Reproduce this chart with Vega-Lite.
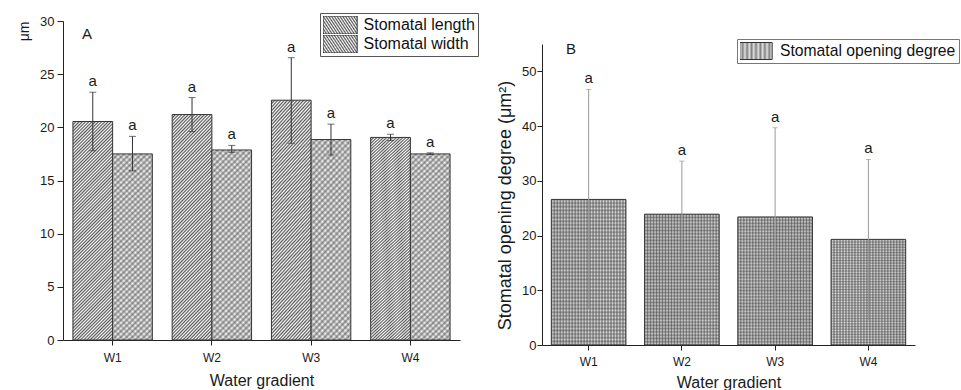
{
  "$schema": "https://vega.github.io/schema/vega-lite/v6.json",
  "background": "white",
  "padding": {"left": 17, "top": 12, "right": 0, "bottom": 0},
  "bounds": "flush",
  "spacing": 82,
  "config": {
    "font": "Liberation Sans",
    "view": {"stroke": null},
    "axis": {"grid": false, "domainColor": "#222", "tickColor": "#222", "labelColor": "#1a1a1a", "titleColor": "#1a1a1a", "labelFont": "Liberation Sans", "titleFont": "Liberation Sans", "titleFontWeight": "normal"},
    "legend": {"labelFont": "Liberation Sans", "labelColor": "#111"},
    "title": {"font": "Liberation Sans", "fontWeight": "normal", "color": "#1a1a1a", "fontSize": 15}
  },
  "resolve": {"scale": {"x": "independent", "y": "independent", "xOffset": "independent", "stroke": "independent"}, "legend": {"stroke": "independent"}},
  "hconcat": [
    {
      "width": 397,
      "height": 319,
      "title": {"text": "A", "anchor": "start", "frame": "group", "offset": -29, "dx": 19},
      "data": {"values": [
        {"g": "W1", "s": "Stomatal length", "v": 20.55, "lo": 17.8, "hi": 23.3, "sig": "a"},
        {"g": "W1", "s": "Stomatal width", "v": 17.5, "lo": 15.9, "hi": 19.15, "sig": "a"},
        {"g": "W2", "s": "Stomatal length", "v": 21.2, "lo": 19.6, "hi": 22.8, "sig": "a"},
        {"g": "W2", "s": "Stomatal width", "v": 17.87, "lo": 17.65, "hi": 18.3, "sig": "a"},
        {"g": "W3", "s": "Stomatal length", "v": 22.55, "lo": 18.5, "hi": 26.55, "sig": "a"},
        {"g": "W3", "s": "Stomatal width", "v": 18.85, "lo": 17.4, "hi": 20.3, "sig": "a"},
        {"g": "W4", "s": "Stomatal length", "v": 19.05, "lo": 18.75, "hi": 19.35, "sig": "a"},
        {"g": "W4", "s": "Stomatal width", "v": 17.5, "lo": 17.45, "hi": 17.6, "sig": "a"}
      ]},
      "encoding": {
        "x": {"field": "g", "type": "nominal", "title": "Water gradient", "scale": {"paddingInner": 0.2, "paddingOuter": 0.1},
          "axis": {"labelAngle": 0, "labelFontSize": 12, "titleFontSize": 16, "tickSize": 5, "labelPadding": 7, "titlePadding": 9}},
        "xOffset": {"field": "s", "type": "nominal", "scale": {"domain": ["Stomatal length", "Stomatal width"], "paddingInner": 0, "paddingOuter": 0}}
      },
      "layer": [
        {
          "transform": [{"filter": "datum.s === 'Stomatal length'"}],
          "mark": {"type": "bar", "strokeWidth": 1, "fill": {"gradient": "linear", "x1": 0, "y1": 0, "x2": 0.208, "y2": 1.144, "stops": [
            {"offset":0,"color":"#555"},{"offset":0.00625,"color":"#fff"},{"offset":0.0125,"color":"#555"},{"offset":0.01875,"color":"#fff"},
            {"offset":0.025,"color":"#555"},{"offset":0.03125,"color":"#fff"},{"offset":0.0375,"color":"#555"},{"offset":0.04375,"color":"#fff"},
            {"offset":0.05,"color":"#555"},{"offset":0.05625,"color":"#fff"},{"offset":0.0625,"color":"#555"},{"offset":0.06875,"color":"#fff"},
            {"offset":0.075,"color":"#555"},{"offset":0.08125,"color":"#fff"},{"offset":0.0875,"color":"#555"},{"offset":0.09375,"color":"#fff"},
            {"offset":0.1,"color":"#555"},{"offset":0.10625,"color":"#fff"},{"offset":0.1125,"color":"#555"},{"offset":0.11875,"color":"#fff"},
            {"offset":0.125,"color":"#555"},{"offset":0.13125,"color":"#fff"},{"offset":0.1375,"color":"#555"},{"offset":0.14375,"color":"#fff"},
            {"offset":0.15,"color":"#555"},{"offset":0.15625,"color":"#fff"},{"offset":0.1625,"color":"#555"},{"offset":0.16875,"color":"#fff"},
            {"offset":0.175,"color":"#555"},{"offset":0.18125,"color":"#fff"},{"offset":0.1875,"color":"#555"},{"offset":0.19375,"color":"#fff"},
            {"offset":0.2,"color":"#555"},{"offset":0.20625,"color":"#fff"},{"offset":0.2125,"color":"#555"},{"offset":0.21875,"color":"#fff"},
            {"offset":0.225,"color":"#555"},{"offset":0.23125,"color":"#fff"},{"offset":0.2375,"color":"#555"},{"offset":0.24375,"color":"#fff"},
            {"offset":0.25,"color":"#555"},{"offset":0.25625,"color":"#fff"},{"offset":0.2625,"color":"#555"},{"offset":0.26875,"color":"#fff"},
            {"offset":0.275,"color":"#555"},{"offset":0.28125,"color":"#fff"},{"offset":0.2875,"color":"#555"},{"offset":0.29375,"color":"#fff"},
            {"offset":0.3,"color":"#555"},{"offset":0.30625,"color":"#fff"},{"offset":0.3125,"color":"#555"},{"offset":0.31875,"color":"#fff"},
            {"offset":0.325,"color":"#555"},{"offset":0.33125,"color":"#fff"},{"offset":0.3375,"color":"#555"},{"offset":0.34375,"color":"#fff"},
            {"offset":0.35,"color":"#555"},{"offset":0.35625,"color":"#fff"},{"offset":0.3625,"color":"#555"},{"offset":0.36875,"color":"#fff"},
            {"offset":0.375,"color":"#555"},{"offset":0.38125,"color":"#fff"},{"offset":0.3875,"color":"#555"},{"offset":0.39375,"color":"#fff"},
            {"offset":0.4,"color":"#555"},{"offset":0.40625,"color":"#fff"},{"offset":0.4125,"color":"#555"},{"offset":0.41875,"color":"#fff"},
            {"offset":0.425,"color":"#555"},{"offset":0.43125,"color":"#fff"},{"offset":0.4375,"color":"#555"},{"offset":0.44375,"color":"#fff"},
            {"offset":0.45,"color":"#555"},{"offset":0.45625,"color":"#fff"},{"offset":0.4625,"color":"#555"},{"offset":0.46875,"color":"#fff"},
            {"offset":0.475,"color":"#555"},{"offset":0.48125,"color":"#fff"},{"offset":0.4875,"color":"#555"},{"offset":0.49375,"color":"#fff"},
            {"offset":0.5,"color":"#555"},{"offset":0.50625,"color":"#fff"},{"offset":0.5125,"color":"#555"},{"offset":0.51875,"color":"#fff"},
            {"offset":0.525,"color":"#555"},{"offset":0.53125,"color":"#fff"},{"offset":0.5375,"color":"#555"},{"offset":0.54375,"color":"#fff"},
            {"offset":0.55,"color":"#555"},{"offset":0.55625,"color":"#fff"},{"offset":0.5625,"color":"#555"},{"offset":0.56875,"color":"#fff"},
            {"offset":0.575,"color":"#555"},{"offset":0.58125,"color":"#fff"},{"offset":0.5875,"color":"#555"},{"offset":0.59375,"color":"#fff"},
            {"offset":0.6,"color":"#555"},{"offset":0.60625,"color":"#fff"},{"offset":0.6125,"color":"#555"},{"offset":0.61875,"color":"#fff"},
            {"offset":0.625,"color":"#555"},{"offset":0.63125,"color":"#fff"},{"offset":0.6375,"color":"#555"},{"offset":0.64375,"color":"#fff"},
            {"offset":0.65,"color":"#555"},{"offset":0.65625,"color":"#fff"},{"offset":0.6625,"color":"#555"},{"offset":0.66875,"color":"#fff"},
            {"offset":0.675,"color":"#555"},{"offset":0.68125,"color":"#fff"},{"offset":0.6875,"color":"#555"},{"offset":0.69375,"color":"#fff"},
            {"offset":0.7,"color":"#555"},{"offset":0.70625,"color":"#fff"},{"offset":0.7125,"color":"#555"},{"offset":0.71875,"color":"#fff"},
            {"offset":0.725,"color":"#555"},{"offset":0.73125,"color":"#fff"},{"offset":0.7375,"color":"#555"},{"offset":0.74375,"color":"#fff"},
            {"offset":0.75,"color":"#555"},{"offset":0.75625,"color":"#fff"},{"offset":0.7625,"color":"#555"},{"offset":0.76875,"color":"#fff"},
            {"offset":0.775,"color":"#555"},{"offset":0.78125,"color":"#fff"},{"offset":0.7875,"color":"#555"},{"offset":0.79375,"color":"#fff"},
            {"offset":0.8,"color":"#555"},{"offset":0.80625,"color":"#fff"},{"offset":0.8125,"color":"#555"},{"offset":0.81875,"color":"#fff"},
            {"offset":0.825,"color":"#555"},{"offset":0.83125,"color":"#fff"},{"offset":0.8375,"color":"#555"},{"offset":0.84375,"color":"#fff"},
            {"offset":0.85,"color":"#555"},{"offset":0.85625,"color":"#fff"},{"offset":0.8625,"color":"#555"},{"offset":0.86875,"color":"#fff"},
            {"offset":0.875,"color":"#555"},{"offset":0.88125,"color":"#fff"},{"offset":0.8875,"color":"#555"},{"offset":0.89375,"color":"#fff"},
            {"offset":0.9,"color":"#555"},{"offset":0.90625,"color":"#fff"},{"offset":0.9125,"color":"#555"},{"offset":0.91875,"color":"#fff"},
            {"offset":0.925,"color":"#555"},{"offset":0.93125,"color":"#fff"},{"offset":0.9375,"color":"#555"},{"offset":0.94375,"color":"#fff"},
            {"offset":0.95,"color":"#555"},{"offset":0.95625,"color":"#fff"},{"offset":0.9625,"color":"#555"},{"offset":0.96875,"color":"#fff"},
            {"offset":0.975,"color":"#555"},{"offset":0.98125,"color":"#fff"},{"offset":0.9875,"color":"#555"},{"offset":0.99375,"color":"#fff"},
            {"offset":1,"color":"#555"}
          ]}},
          "encoding": {
            "y": {"field": "v", "type": "quantitative", "title": "μm", "scale": {"domain": [0, 30], "nice": false},
              "axis": {"titleAnchor": "end", "titleFontSize": 14, "titlePadding": 8, "values": [0, 2.5, 5, 7.5, 10, 12.5, 15, 17.5, 20, 22.5, 25, 27.5, 30],
                "labelExpr": "datum.value % 5 === 0 ? datum.label : ''", "labelOverlap": false, "labelFontSize": 13, "labelPadding": 3,
                "tickSize": {"condition": {"test": "datum.value % 5 === 0", "value": 6}, "value": 3}}},
            "stroke": {"field": "s", "type": "nominal", "scale": {"domain": ["Stomatal length", "Stomatal width"], "range": ["#333", "#333"]},
              "legend": {"title": null, "orient": "none", "legendX": 257, "legendY": -8, "symbolType": "M-1.9,-1H1.9V1H-1.9Z", "symbolSize": 324,
                "symbolOffset": 7.6, "labelOffset": 14, "labelFontSize": 16, "rowPadding": 1, "clipHeight": 18, "padding": 3, "strokeColor": "#555", "fillColor": "#fff",
                "labelLimit": 300, "symbolStrokeWidth": 1,
                "encode": {"symbols": {"update": {"fill": [
                  {"test": "datum.value === 'Stomatal length'", "value": {"gradient": "linear", "x1": 0, "y1": 0, "x2": 1.194, "y2": 0.633, "stops": [
                    {"offset":0,"color":"#555"},{"offset":0.03125,"color":"#fff"},{"offset":0.0625,"color":"#555"},{"offset":0.09375,"color":"#fff"},
                    {"offset":0.125,"color":"#555"},{"offset":0.15625,"color":"#fff"},{"offset":0.1875,"color":"#555"},{"offset":0.21875,"color":"#fff"},
                    {"offset":0.25,"color":"#555"},{"offset":0.28125,"color":"#fff"},{"offset":0.3125,"color":"#555"},{"offset":0.34375,"color":"#fff"},
                    {"offset":0.375,"color":"#555"},{"offset":0.40625,"color":"#fff"},{"offset":0.4375,"color":"#555"},{"offset":0.46875,"color":"#fff"},
                    {"offset":0.5,"color":"#555"},{"offset":0.53125,"color":"#fff"},{"offset":0.5625,"color":"#555"},{"offset":0.59375,"color":"#fff"},
                    {"offset":0.625,"color":"#555"},{"offset":0.65625,"color":"#fff"},{"offset":0.6875,"color":"#555"},{"offset":0.71875,"color":"#fff"},
                    {"offset":0.75,"color":"#555"},{"offset":0.78125,"color":"#fff"},{"offset":0.8125,"color":"#555"},{"offset":0.84375,"color":"#fff"},
                    {"offset":0.875,"color":"#555"},{"offset":0.90625,"color":"#fff"},{"offset":0.9375,"color":"#555"},{"offset":0.96875,"color":"#fff"},
                    {"offset":1,"color":"#555"}]}},
                  {"value": {"gradient": "linear", "x1": 1, "y1": 0, "x2": -0.194, "y2": 0.633, "stops": [
                    {"offset":0,"color":"#9a9a9a"},{"offset":0.05,"color":"#fff"},{"offset":0.1,"color":"#9a9a9a"},{"offset":0.15,"color":"#fff"},
                    {"offset":0.2,"color":"#9a9a9a"},{"offset":0.25,"color":"#fff"},{"offset":0.3,"color":"#9a9a9a"},{"offset":0.35,"color":"#fff"},
                    {"offset":0.4,"color":"#9a9a9a"},{"offset":0.45,"color":"#fff"},{"offset":0.5,"color":"#9a9a9a"},{"offset":0.55,"color":"#fff"},
                    {"offset":0.6,"color":"#9a9a9a"},{"offset":0.65,"color":"#fff"},{"offset":0.7,"color":"#9a9a9a"},{"offset":0.75,"color":"#fff"},
                    {"offset":0.8,"color":"#9a9a9a"},{"offset":0.85,"color":"#fff"},{"offset":0.9,"color":"#9a9a9a"},{"offset":0.95,"color":"#fff"},
                    {"offset":1,"color":"#9a9a9a"}]}}
                ]}}}}}
          }
        },
        {
          "transform": [{"filter": "datum.s === 'Stomatal width'"}],
          "mark": {"type": "bar", "fill": {"gradient": "linear", "x1": 0, "y1": 0, "x2": 0.241, "y2": 1.158, "stops": [
            {"offset":0,"color":"#9a9a9a"},{"offset":0.0125,"color":"#fff"},{"offset":0.025,"color":"#9a9a9a"},{"offset":0.0375,"color":"#fff"},
            {"offset":0.05,"color":"#9a9a9a"},{"offset":0.0625,"color":"#fff"},{"offset":0.075,"color":"#9a9a9a"},{"offset":0.0875,"color":"#fff"},
            {"offset":0.1,"color":"#9a9a9a"},{"offset":0.1125,"color":"#fff"},{"offset":0.125,"color":"#9a9a9a"},{"offset":0.1375,"color":"#fff"},
            {"offset":0.15,"color":"#9a9a9a"},{"offset":0.1625,"color":"#fff"},{"offset":0.175,"color":"#9a9a9a"},{"offset":0.1875,"color":"#fff"},
            {"offset":0.2,"color":"#9a9a9a"},{"offset":0.2125,"color":"#fff"},{"offset":0.225,"color":"#9a9a9a"},{"offset":0.2375,"color":"#fff"},
            {"offset":0.25,"color":"#9a9a9a"},{"offset":0.2625,"color":"#fff"},{"offset":0.275,"color":"#9a9a9a"},{"offset":0.2875,"color":"#fff"},
            {"offset":0.3,"color":"#9a9a9a"},{"offset":0.3125,"color":"#fff"},{"offset":0.325,"color":"#9a9a9a"},{"offset":0.3375,"color":"#fff"},
            {"offset":0.35,"color":"#9a9a9a"},{"offset":0.3625,"color":"#fff"},{"offset":0.375,"color":"#9a9a9a"},{"offset":0.3875,"color":"#fff"},
            {"offset":0.4,"color":"#9a9a9a"},{"offset":0.4125,"color":"#fff"},{"offset":0.425,"color":"#9a9a9a"},{"offset":0.4375,"color":"#fff"},
            {"offset":0.45,"color":"#9a9a9a"},{"offset":0.4625,"color":"#fff"},{"offset":0.475,"color":"#9a9a9a"},{"offset":0.4875,"color":"#fff"},
            {"offset":0.5,"color":"#9a9a9a"},{"offset":0.5125,"color":"#fff"},{"offset":0.525,"color":"#9a9a9a"},{"offset":0.5375,"color":"#fff"},
            {"offset":0.55,"color":"#9a9a9a"},{"offset":0.5625,"color":"#fff"},{"offset":0.575,"color":"#9a9a9a"},{"offset":0.5875,"color":"#fff"},
            {"offset":0.6,"color":"#9a9a9a"},{"offset":0.6125,"color":"#fff"},{"offset":0.625,"color":"#9a9a9a"},{"offset":0.6375,"color":"#fff"},
            {"offset":0.65,"color":"#9a9a9a"},{"offset":0.6625,"color":"#fff"},{"offset":0.675,"color":"#9a9a9a"},{"offset":0.6875,"color":"#fff"},
            {"offset":0.7,"color":"#9a9a9a"},{"offset":0.7125,"color":"#fff"},{"offset":0.725,"color":"#9a9a9a"},{"offset":0.7375,"color":"#fff"},
            {"offset":0.75,"color":"#9a9a9a"},{"offset":0.7625,"color":"#fff"},{"offset":0.775,"color":"#9a9a9a"},{"offset":0.7875,"color":"#fff"},
            {"offset":0.8,"color":"#9a9a9a"},{"offset":0.8125,"color":"#fff"},{"offset":0.825,"color":"#9a9a9a"},{"offset":0.8375,"color":"#fff"},
            {"offset":0.85,"color":"#9a9a9a"},{"offset":0.8625,"color":"#fff"},{"offset":0.875,"color":"#9a9a9a"},{"offset":0.8875,"color":"#fff"},
            {"offset":0.9,"color":"#9a9a9a"},{"offset":0.9125,"color":"#fff"},{"offset":0.925,"color":"#9a9a9a"},{"offset":0.9375,"color":"#fff"},
            {"offset":0.95,"color":"#9a9a9a"},{"offset":0.9625,"color":"#fff"},{"offset":0.975,"color":"#9a9a9a"},{"offset":0.9875,"color":"#fff"},
            {"offset":1,"color":"#9a9a9a"}
          ]}},
          "encoding": {"y": {"field": "v", "type": "quantitative", "title": "μm"}}
        },
        {
          "transform": [{"filter": "datum.s === 'Stomatal width'"}],
          "mark": {"type": "bar", "stroke": "#333", "strokeWidth": 1, "fill": {"gradient": "linear", "x1": 1, "y1": 0, "x2": 0.759, "y2": 1.158, "stops": [
            {"offset":0,"color":"rgba(60,60,60,0.35)"},{"offset":0.0125,"color":"rgba(60,60,60,0)"},{"offset":0.025,"color":"rgba(60,60,60,0.35)"},{"offset":0.0375,"color":"rgba(60,60,60,0)"},
            {"offset":0.05,"color":"rgba(60,60,60,0.35)"},{"offset":0.0625,"color":"rgba(60,60,60,0)"},{"offset":0.075,"color":"rgba(60,60,60,0.35)"},{"offset":0.0875,"color":"rgba(60,60,60,0)"},
            {"offset":0.1,"color":"rgba(60,60,60,0.35)"},{"offset":0.1125,"color":"rgba(60,60,60,0)"},{"offset":0.125,"color":"rgba(60,60,60,0.35)"},{"offset":0.1375,"color":"rgba(60,60,60,0)"},
            {"offset":0.15,"color":"rgba(60,60,60,0.35)"},{"offset":0.1625,"color":"rgba(60,60,60,0)"},{"offset":0.175,"color":"rgba(60,60,60,0.35)"},{"offset":0.1875,"color":"rgba(60,60,60,0)"},
            {"offset":0.2,"color":"rgba(60,60,60,0.35)"},{"offset":0.2125,"color":"rgba(60,60,60,0)"},{"offset":0.225,"color":"rgba(60,60,60,0.35)"},{"offset":0.2375,"color":"rgba(60,60,60,0)"},
            {"offset":0.25,"color":"rgba(60,60,60,0.35)"},{"offset":0.2625,"color":"rgba(60,60,60,0)"},{"offset":0.275,"color":"rgba(60,60,60,0.35)"},{"offset":0.2875,"color":"rgba(60,60,60,0)"},
            {"offset":0.3,"color":"rgba(60,60,60,0.35)"},{"offset":0.3125,"color":"rgba(60,60,60,0)"},{"offset":0.325,"color":"rgba(60,60,60,0.35)"},{"offset":0.3375,"color":"rgba(60,60,60,0)"},
            {"offset":0.35,"color":"rgba(60,60,60,0.35)"},{"offset":0.3625,"color":"rgba(60,60,60,0)"},{"offset":0.375,"color":"rgba(60,60,60,0.35)"},{"offset":0.3875,"color":"rgba(60,60,60,0)"},
            {"offset":0.4,"color":"rgba(60,60,60,0.35)"},{"offset":0.4125,"color":"rgba(60,60,60,0)"},{"offset":0.425,"color":"rgba(60,60,60,0.35)"},{"offset":0.4375,"color":"rgba(60,60,60,0)"},
            {"offset":0.45,"color":"rgba(60,60,60,0.35)"},{"offset":0.4625,"color":"rgba(60,60,60,0)"},{"offset":0.475,"color":"rgba(60,60,60,0.35)"},{"offset":0.4875,"color":"rgba(60,60,60,0)"},
            {"offset":0.5,"color":"rgba(60,60,60,0.35)"},{"offset":0.5125,"color":"rgba(60,60,60,0)"},{"offset":0.525,"color":"rgba(60,60,60,0.35)"},{"offset":0.5375,"color":"rgba(60,60,60,0)"},
            {"offset":0.55,"color":"rgba(60,60,60,0.35)"},{"offset":0.5625,"color":"rgba(60,60,60,0)"},{"offset":0.575,"color":"rgba(60,60,60,0.35)"},{"offset":0.5875,"color":"rgba(60,60,60,0)"},
            {"offset":0.6,"color":"rgba(60,60,60,0.35)"},{"offset":0.6125,"color":"rgba(60,60,60,0)"},{"offset":0.625,"color":"rgba(60,60,60,0.35)"},{"offset":0.6375,"color":"rgba(60,60,60,0)"},
            {"offset":0.65,"color":"rgba(60,60,60,0.35)"},{"offset":0.6625,"color":"rgba(60,60,60,0)"},{"offset":0.675,"color":"rgba(60,60,60,0.35)"},{"offset":0.6875,"color":"rgba(60,60,60,0)"},
            {"offset":0.7,"color":"rgba(60,60,60,0.35)"},{"offset":0.7125,"color":"rgba(60,60,60,0)"},{"offset":0.725,"color":"rgba(60,60,60,0.35)"},{"offset":0.7375,"color":"rgba(60,60,60,0)"},
            {"offset":0.75,"color":"rgba(60,60,60,0.35)"},{"offset":0.7625,"color":"rgba(60,60,60,0)"},{"offset":0.775,"color":"rgba(60,60,60,0.35)"},{"offset":0.7875,"color":"rgba(60,60,60,0)"},
            {"offset":0.8,"color":"rgba(60,60,60,0.35)"},{"offset":0.8125,"color":"rgba(60,60,60,0)"},{"offset":0.825,"color":"rgba(60,60,60,0.35)"},{"offset":0.8375,"color":"rgba(60,60,60,0)"},
            {"offset":0.85,"color":"rgba(60,60,60,0.35)"},{"offset":0.8625,"color":"rgba(60,60,60,0)"},{"offset":0.875,"color":"rgba(60,60,60,0.35)"},{"offset":0.8875,"color":"rgba(60,60,60,0)"},
            {"offset":0.9,"color":"rgba(60,60,60,0.35)"},{"offset":0.9125,"color":"rgba(60,60,60,0)"},{"offset":0.925,"color":"rgba(60,60,60,0.35)"},{"offset":0.9375,"color":"rgba(60,60,60,0)"},
            {"offset":0.95,"color":"rgba(60,60,60,0.35)"},{"offset":0.9625,"color":"rgba(60,60,60,0)"},{"offset":0.975,"color":"rgba(60,60,60,0.35)"},{"offset":0.9875,"color":"rgba(60,60,60,0)"},
            {"offset":1,"color":"rgba(60,60,60,0.35)"}
          ]}},
          "encoding": {"y": {"field": "v", "type": "quantitative", "title": "μm"}}
        },
        {
          "mark": {"type": "rule", "color": "#333", "strokeWidth": 1},
          "encoding": {"y": {"field": "lo", "type": "quantitative", "title": "μm"}, "y2": {"field": "hi"}}
        },
        {
          "mark": {"type": "tick", "color": "#333", "thickness": 1, "size": 7},
          "encoding": {"y": {"field": "hi", "type": "quantitative", "title": "μm"}}
        },
        {
          "mark": {"type": "tick", "color": "#333", "thickness": 1, "size": 7},
          "encoding": {"y": {"field": "lo", "type": "quantitative", "title": "μm"}}
        },
        {
          "mark": {"type": "text", "baseline": "alphabetic", "dy": -6, "fontSize": 15, "color": "#1a1a1a"},
          "encoding": {"y": {"field": "hi", "type": "quantitative", "title": "μm"}, "text": {"field": "sig"}}
        }
      ]
    },
    {
      "width": 373,
      "height": 324,
      "title": {"text": "B", "anchor": "start", "frame": "group", "offset": -36, "dx": 24},
      "data": {"values": [
        {"g": "W1", "s": "Stomatal opening degree", "v": 26.6, "lo": 6.5, "hi": 46.7, "sig": "a"},
        {"g": "W2", "s": "Stomatal opening degree", "v": 23.9, "lo": 14.1, "hi": 33.6, "sig": "a"},
        {"g": "W3", "s": "Stomatal opening degree", "v": 23.4, "lo": 6.9, "hi": 39.7, "sig": "a"},
        {"g": "W4", "s": "Stomatal opening degree", "v": 19.3, "lo": 4.6, "hi": 33.9, "sig": "a"}
      ]},
      "encoding": {
        "x": {"field": "g", "type": "nominal", "title": "Water gradient", "scale": {"paddingInner": 0.2, "paddingOuter": 0.1},
          "axis": {"labelAngle": 0, "labelFontSize": 12, "titleFontSize": 16, "tickSize": 5, "labelPadding": 6, "titlePadding": 7}}
      },
      "layer": [
        {
          "mark": {"type": "bar", "strokeWidth": 1, "fill": {"gradient": "linear", "x1": 0, "y1": 0, "x2": 1, "y2": 0, "stops": [
            {"offset":0,"color":"#808080"},{"offset":0.02,"color":"#e2e2e2"},{"offset":0.04,"color":"#808080"},{"offset":0.06,"color":"#e2e2e2"},
            {"offset":0.08,"color":"#808080"},{"offset":0.1,"color":"#e2e2e2"},{"offset":0.12,"color":"#808080"},{"offset":0.14,"color":"#e2e2e2"},
            {"offset":0.16,"color":"#808080"},{"offset":0.18,"color":"#e2e2e2"},{"offset":0.2,"color":"#808080"},{"offset":0.22,"color":"#e2e2e2"},
            {"offset":0.24,"color":"#808080"},{"offset":0.26,"color":"#e2e2e2"},{"offset":0.28,"color":"#808080"},{"offset":0.3,"color":"#e2e2e2"},
            {"offset":0.32,"color":"#808080"},{"offset":0.34,"color":"#e2e2e2"},{"offset":0.36,"color":"#808080"},{"offset":0.38,"color":"#e2e2e2"},
            {"offset":0.4,"color":"#808080"},{"offset":0.42,"color":"#e2e2e2"},{"offset":0.44,"color":"#808080"},{"offset":0.46,"color":"#e2e2e2"},
            {"offset":0.48,"color":"#808080"},{"offset":0.5,"color":"#e2e2e2"},{"offset":0.52,"color":"#808080"},{"offset":0.54,"color":"#e2e2e2"},
            {"offset":0.56,"color":"#808080"},{"offset":0.58,"color":"#e2e2e2"},{"offset":0.6,"color":"#808080"},{"offset":0.62,"color":"#e2e2e2"},
            {"offset":0.64,"color":"#808080"},{"offset":0.66,"color":"#e2e2e2"},{"offset":0.68,"color":"#808080"},{"offset":0.7,"color":"#e2e2e2"},
            {"offset":0.72,"color":"#808080"},{"offset":0.74,"color":"#e2e2e2"},{"offset":0.76,"color":"#808080"},{"offset":0.78,"color":"#e2e2e2"},
            {"offset":0.8,"color":"#808080"},{"offset":0.82,"color":"#e2e2e2"},{"offset":0.84,"color":"#808080"},{"offset":0.86,"color":"#e2e2e2"},
            {"offset":0.88,"color":"#808080"},{"offset":0.9,"color":"#e2e2e2"},{"offset":0.92,"color":"#808080"},{"offset":0.94,"color":"#e2e2e2"},
            {"offset":0.96,"color":"#808080"},{"offset":0.98,"color":"#e2e2e2"},{"offset":1,"color":"#808080"}
          ]}},
          "encoding": {
            "y": {"field": "v", "type": "quantitative", "title": "Stomatal opening degree (μm²)", "scale": {"domain": [0, 55], "nice": false, "range": [324, 23]},
              "axis": {"titleFontSize": 18, "titlePadding": 7, "titleY": 184, "values": [0, 5, 10, 15, 20, 25, 30, 35, 40, 45, 50, 55],
                "labelExpr": "datum.value % 10 === 0 ? datum.label : ''", "labelOverlap": false, "labelFontSize": 13, "labelPadding": 1,
                "tickSize": {"condition": {"test": "datum.value % 10 === 0", "value": 5}, "value": 3}}},
            "stroke": {"field": "s", "type": "nominal", "scale": {"domain": ["Stomatal opening degree"], "range": ["#333"]},
              "legend": {"title": null, "orient": "none", "legendX": 195, "legendY": 18, "symbolType": "M-1.9,-1H1.9V1H-1.9Z", "symbolSize": 289,
                "symbolOffset": 7, "labelOffset": 15, "labelFontSize": 15.7, "clipHeight": 18, "padding": 3, "strokeColor": "#777", "fillColor": "#fff",
                "labelLimit": 300, "symbolStrokeWidth": 1,
                "encode": {"symbols": {"update": {"fill": {"value": {"gradient": "linear", "x1": 0, "y1": 0, "x2": 1, "y2": 0, "stops": [
                  {"offset":0,"color":"#808080"},{"offset":0.05,"color":"#dcdcdc"},{"offset":0.1,"color":"#808080"},{"offset":0.15,"color":"#dcdcdc"},
                  {"offset":0.2,"color":"#808080"},{"offset":0.25,"color":"#dcdcdc"},{"offset":0.3,"color":"#808080"},{"offset":0.35,"color":"#dcdcdc"},
                  {"offset":0.4,"color":"#808080"},{"offset":0.45,"color":"#dcdcdc"},{"offset":0.5,"color":"#808080"},{"offset":0.55,"color":"#dcdcdc"},
                  {"offset":0.6,"color":"#808080"},{"offset":0.65,"color":"#dcdcdc"},{"offset":0.7,"color":"#808080"},{"offset":0.75,"color":"#dcdcdc"},
                  {"offset":0.8,"color":"#808080"},{"offset":0.85,"color":"#dcdcdc"},{"offset":0.9,"color":"#808080"},{"offset":0.95,"color":"#dcdcdc"},
                  {"offset":1,"color":"#808080"}]}}}}}}}
          }
        },
        {
          "mark": {"type": "bar", "fill": {"gradient": "linear", "x1": 0, "y1": 0, "x2": 0, "y2": 1, "stops": [
            {"offset":0,"color":"rgba(60,60,60,0.45)"},{"offset":0.0125,"color":"rgba(60,60,60,0)"},{"offset":0.025,"color":"rgba(60,60,60,0.45)"},{"offset":0.0375,"color":"rgba(60,60,60,0)"},
            {"offset":0.05,"color":"rgba(60,60,60,0.45)"},{"offset":0.0625,"color":"rgba(60,60,60,0)"},{"offset":0.075,"color":"rgba(60,60,60,0.45)"},{"offset":0.0875,"color":"rgba(60,60,60,0)"},
            {"offset":0.1,"color":"rgba(60,60,60,0.45)"},{"offset":0.1125,"color":"rgba(60,60,60,0)"},{"offset":0.125,"color":"rgba(60,60,60,0.45)"},{"offset":0.1375,"color":"rgba(60,60,60,0)"},
            {"offset":0.15,"color":"rgba(60,60,60,0.45)"},{"offset":0.1625,"color":"rgba(60,60,60,0)"},{"offset":0.175,"color":"rgba(60,60,60,0.45)"},{"offset":0.1875,"color":"rgba(60,60,60,0)"},
            {"offset":0.2,"color":"rgba(60,60,60,0.45)"},{"offset":0.2125,"color":"rgba(60,60,60,0)"},{"offset":0.225,"color":"rgba(60,60,60,0.45)"},{"offset":0.2375,"color":"rgba(60,60,60,0)"},
            {"offset":0.25,"color":"rgba(60,60,60,0.45)"},{"offset":0.2625,"color":"rgba(60,60,60,0)"},{"offset":0.275,"color":"rgba(60,60,60,0.45)"},{"offset":0.2875,"color":"rgba(60,60,60,0)"},
            {"offset":0.3,"color":"rgba(60,60,60,0.45)"},{"offset":0.3125,"color":"rgba(60,60,60,0)"},{"offset":0.325,"color":"rgba(60,60,60,0.45)"},{"offset":0.3375,"color":"rgba(60,60,60,0)"},
            {"offset":0.35,"color":"rgba(60,60,60,0.45)"},{"offset":0.3625,"color":"rgba(60,60,60,0)"},{"offset":0.375,"color":"rgba(60,60,60,0.45)"},{"offset":0.3875,"color":"rgba(60,60,60,0)"},
            {"offset":0.4,"color":"rgba(60,60,60,0.45)"},{"offset":0.4125,"color":"rgba(60,60,60,0)"},{"offset":0.425,"color":"rgba(60,60,60,0.45)"},{"offset":0.4375,"color":"rgba(60,60,60,0)"},
            {"offset":0.45,"color":"rgba(60,60,60,0.45)"},{"offset":0.4625,"color":"rgba(60,60,60,0)"},{"offset":0.475,"color":"rgba(60,60,60,0.45)"},{"offset":0.4875,"color":"rgba(60,60,60,0)"},
            {"offset":0.5,"color":"rgba(60,60,60,0.45)"},{"offset":0.5125,"color":"rgba(60,60,60,0)"},{"offset":0.525,"color":"rgba(60,60,60,0.45)"},{"offset":0.5375,"color":"rgba(60,60,60,0)"},
            {"offset":0.55,"color":"rgba(60,60,60,0.45)"},{"offset":0.5625,"color":"rgba(60,60,60,0)"},{"offset":0.575,"color":"rgba(60,60,60,0.45)"},{"offset":0.5875,"color":"rgba(60,60,60,0)"},
            {"offset":0.6,"color":"rgba(60,60,60,0.45)"},{"offset":0.6125,"color":"rgba(60,60,60,0)"},{"offset":0.625,"color":"rgba(60,60,60,0.45)"},{"offset":0.6375,"color":"rgba(60,60,60,0)"},
            {"offset":0.65,"color":"rgba(60,60,60,0.45)"},{"offset":0.6625,"color":"rgba(60,60,60,0)"},{"offset":0.675,"color":"rgba(60,60,60,0.45)"},{"offset":0.6875,"color":"rgba(60,60,60,0)"},
            {"offset":0.7,"color":"rgba(60,60,60,0.45)"},{"offset":0.7125,"color":"rgba(60,60,60,0)"},{"offset":0.725,"color":"rgba(60,60,60,0.45)"},{"offset":0.7375,"color":"rgba(60,60,60,0)"},
            {"offset":0.75,"color":"rgba(60,60,60,0.45)"},{"offset":0.7625,"color":"rgba(60,60,60,0)"},{"offset":0.775,"color":"rgba(60,60,60,0.45)"},{"offset":0.7875,"color":"rgba(60,60,60,0)"},
            {"offset":0.8,"color":"rgba(60,60,60,0.45)"},{"offset":0.8125,"color":"rgba(60,60,60,0)"},{"offset":0.825,"color":"rgba(60,60,60,0.45)"},{"offset":0.8375,"color":"rgba(60,60,60,0)"},
            {"offset":0.85,"color":"rgba(60,60,60,0.45)"},{"offset":0.8625,"color":"rgba(60,60,60,0)"},{"offset":0.875,"color":"rgba(60,60,60,0.45)"},{"offset":0.8875,"color":"rgba(60,60,60,0)"},
            {"offset":0.9,"color":"rgba(60,60,60,0.45)"},{"offset":0.9125,"color":"rgba(60,60,60,0)"},{"offset":0.925,"color":"rgba(60,60,60,0.45)"},{"offset":0.9375,"color":"rgba(60,60,60,0)"},
            {"offset":0.95,"color":"rgba(60,60,60,0.45)"},{"offset":0.9625,"color":"rgba(60,60,60,0)"},{"offset":0.975,"color":"rgba(60,60,60,0.45)"},{"offset":0.9875,"color":"rgba(60,60,60,0)"},
            {"offset":1,"color":"rgba(60,60,60,0.45)"}
          ]}},
          "encoding": {"y": {"field": "v", "type": "quantitative", "title": "Stomatal opening degree (μm²)"}}
        },
        {
          "mark": {"type": "rule", "color": "#999", "strokeWidth": 1},
          "encoding": {"y": {"field": "lo", "type": "quantitative", "title": "Stomatal opening degree (μm²)"}, "y2": {"field": "hi"}}
        },
        {
          "mark": {"type": "tick", "color": "#999", "thickness": 1, "size": 5},
          "encoding": {"y": {"field": "hi", "type": "quantitative", "title": "Stomatal opening degree (μm²)"}}
        },
        {
          "mark": {"type": "tick", "color": "#999", "thickness": 1, "size": 5},
          "encoding": {"y": {"field": "lo", "type": "quantitative", "title": "Stomatal opening degree (μm²)"}}
        },
        {
          "mark": {"type": "text", "baseline": "alphabetic", "dy": -6, "fontSize": 15, "color": "#1a1a1a"},
          "encoding": {"y": {"field": "hi", "type": "quantitative", "title": "Stomatal opening degree (μm²)"}, "text": {"field": "sig"}}
        }
      ]
    }
  ]
}
